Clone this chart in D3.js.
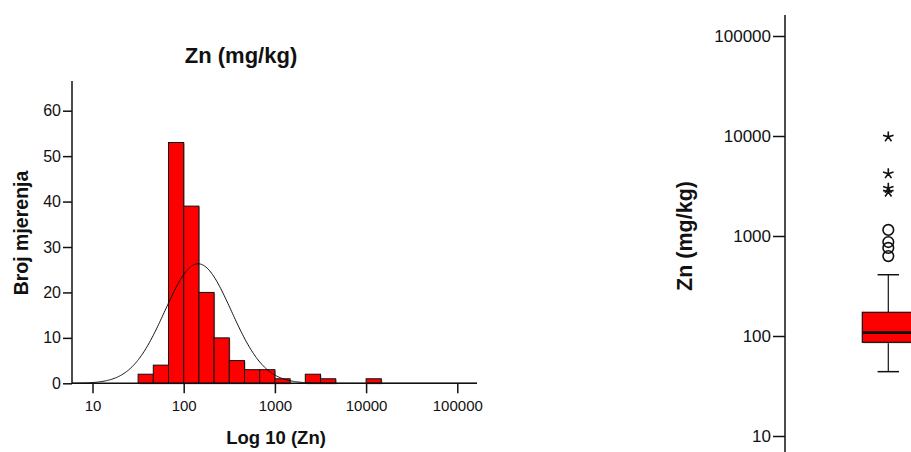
<!DOCTYPE html>
<html><head><meta charset="utf-8">
<script src="https://cdn.jsdelivr.net/npm/d3@7"></script>
<style>
html,body{margin:0;padding:0;background:#fff;}
svg{display:block;font-family:"Liberation Sans",Arial,sans-serif;}
</style></head>
<body>
<svg id="c" width="911" height="452"></svg>
<script>
// ---------- DATA ----------
const histTitle = "Zn (mg/kg)";
const histXLabel = "Log 10 (Zn)";
const histYLabel = "Broj mjerenja";
// bin lower edges in log10(Zn), bin width 1/6 decade
const binLowLog = [1.5, 1.6667, 1.8333, 2.0, 2.1667, 2.3333, 2.5, 2.6667, 2.8333, 3.0, 3.1667, 3.3333, 3.5, 3.6667, 3.8333, 4.0];
const binCounts = [2, 4, 53, 39, 20, 10, 5, 3, 3, 1, 0, 2, 1, 0, 0, 1];
const binWidthLog = 1/6;
const histXTicks = [10, 100, 1000, 10000, 100000];
const histXTickLabels = ["10", "100", "1000", "10000", "100000"];
const histYTicks = [0, 10, 20, 30, 40, 50, 60];
// fitted normal curve (log10 scale)
const normalMean = 2.158;
const normalSD = 0.364;
const normalN = 144;

const boxYLabel = "Zn (mg/kg)";
const boxYTicks = [10, 100, 1000, 10000, 100000];
const boxYTickLabels = ["10", "100", "1000", "10000", "100000"];
const boxStats = {min: 44, q1: 86.5, median: 108, q3: 172.6, max: 410};
const outlierCircles = [630, 760, 870, 1150];
const extremeStars = [2750, 3000, 4200, 9800];

// ---------- DRAW ----------
const svg = d3.select("#c");
const ink = "#111";

// ===== Histogram =====
const hx = d3.scaleLog().domain([10, 100000]).range([92.5, 457.3]);
const hxl = v => hx(Math.pow(10, v));
const hy = d3.scaleLinear().domain([0, 60]).range([383.3, 110.7]);
const hLeft = 72, hRight = 477, hTop = 81;

// title
svg.append("text").attr("x", 241).attr("y", 63).attr("text-anchor", "middle")
  .attr("font-size", 22).attr("font-weight", "bold").attr("fill", ink).text(histTitle);

// bars
const bars = svg.append("g");
binCounts.forEach((c, i) => {
  if (c <= 0) return;
  const x0 = hxl(binLowLog[i]), x1 = hxl(binLowLog[i] + binWidthLog);
  bars.append("rect").attr("x", x0 + 1).attr("y", hy(c) + 1).attr("width", x1 - x0).attr("height", hy(0) - hy(c))
    .attr("fill", "#aaa");
  bars.append("rect").attr("x", x0).attr("y", hy(c)).attr("width", x1 - x0).attr("height", hy(0) - hy(c))
    .attr("fill", "#ff0000").attr("stroke", ink).attr("stroke-width", 1);
});

// normal curve
const peak = normalN * binWidthLog / (normalSD * Math.sqrt(2 * Math.PI));
const curvePts = d3.range(Math.log10(hx.invert(hLeft)), Math.log10(hx.invert(hRight)), 0.01)
  .map(v => [hxl(v), hy(peak * Math.exp(-0.5 * Math.pow((v - normalMean) / normalSD, 2)))]);
svg.append("path").attr("d", d3.line()(curvePts)).attr("fill", "none").attr("stroke", ink).attr("stroke-width", 1);

// y axis
const gy = svg.append("g").attr("transform", `translate(${hLeft},0)`)
  .call(d3.axisLeft(hy).tickValues(histYTicks).tickSize(9).tickPadding(2));
gy.select(".domain").remove();
gy.append("line").attr("x1", 0).attr("x2", 0).attr("y1", hTop).attr("y2", hy(0) + 0.5).attr("stroke", ink).attr("stroke-width", 1.5);
gy.selectAll(".tick line").attr("stroke", ink).attr("stroke-width", 1.5);
gy.selectAll(".tick text").attr("font-size", 16).attr("fill", ink).attr("font-family", "Liberation Sans, Arial, sans-serif");

// x axis
const gx = svg.append("g").attr("transform", `translate(0,${hy(0)})`)
  .call(d3.axisBottom(hx).tickValues(histXTicks).tickFormat((d, i) => histXTickLabels[i]).tickSize(10).tickPadding(7));
gx.select(".domain").remove();
gx.append("line").attr("x1", hLeft).attr("x2", hRight).attr("y1", 0).attr("y2", 0).attr("stroke", ink).attr("stroke-width", 1.5);
gx.selectAll(".tick line").attr("stroke", ink).attr("stroke-width", 1.5);
gx.selectAll(".tick text").attr("font-size", 15).attr("fill", ink).attr("font-family", "Liberation Sans, Arial, sans-serif");

// axis labels
svg.append("text").attr("x", 276).attr("y", 444).attr("text-anchor", "middle")
  .attr("font-size", 18.5).attr("font-weight", "bold").attr("fill", ink).text(histXLabel);
svg.append("text").attr("transform", "translate(28,233) rotate(-90)").attr("text-anchor", "middle")
  .attr("font-size", 19.5).attr("font-weight", "bold").attr("fill", ink).text(histYLabel);

// ===== Box plot =====
const by = d3.scaleLog().domain([10, 100000]).range([436, 36]);
const bAxisX = 785, bTop = 15, bBottom = 452;
const cx = 888.3, halfW = 26, capHalf = 10.7;

const gb = svg.append("g").attr("transform", `translate(${bAxisX},0)`)
  .call(d3.axisLeft(by).tickValues(boxYTicks).tickFormat((d, i) => boxYTickLabels[i]).tickSize(12).tickPadding(2));
gb.select(".domain").remove();
gb.append("line").attr("x1", 0).attr("x2", 0).attr("y1", bTop).attr("y2", bBottom).attr("stroke", ink).attr("stroke-width", 1.5);
gb.selectAll(".tick line").attr("stroke", ink).attr("stroke-width", 1.5);
gb.selectAll(".tick text").attr("font-size", 17).attr("fill", ink).attr("font-family", "Liberation Sans, Arial, sans-serif");

svg.append("text").attr("transform", "translate(692,236) rotate(-90)").attr("text-anchor", "middle")
  .attr("font-size", 21.5).attr("font-weight", "bold").attr("fill", ink).text(boxYLabel);

const bx = svg.append("g");
// whiskers
bx.append("line").attr("x1", cx).attr("x2", cx).attr("y1", by(boxStats.max)).attr("y2", by(boxStats.q3)).attr("stroke", ink).attr("stroke-width", 1.2);
bx.append("line").attr("x1", cx).attr("x2", cx).attr("y1", by(boxStats.q1)).attr("y2", by(boxStats.min)).attr("stroke", ink).attr("stroke-width", 1.2);
[boxStats.max, boxStats.min].forEach(v => {
  bx.append("line").attr("x1", cx - capHalf).attr("x2", cx + capHalf).attr("y1", by(v)).attr("y2", by(v)).attr("stroke", ink).attr("stroke-width", 1.5);
});
// box
bx.append("rect").attr("x", cx - halfW + 1).attr("y", by(boxStats.q3) + 1).attr("width", 2 * halfW).attr("height", by(boxStats.q1) - by(boxStats.q3)).attr("fill", "#aaa");
bx.append("rect").attr("x", cx - halfW).attr("y", by(boxStats.q3)).attr("width", 2 * halfW).attr("height", by(boxStats.q1) - by(boxStats.q3))
  .attr("fill", "#ff0000").attr("stroke", ink).attr("stroke-width", 1.2);
bx.append("line").attr("x1", cx - halfW).attr("x2", cx + halfW).attr("y1", by(boxStats.median)).attr("y2", by(boxStats.median)).attr("stroke", ink).attr("stroke-width", 2.8);

// outliers
outlierCircles.forEach(v => {
  bx.append("circle").attr("cx", cx).attr("cy", by(v)).attr("r", 5.3).attr("fill", "none").attr("stroke", ink).attr("stroke-width", 1.6);
});
// extremes (asterisk)
extremeStars.forEach(v => {
  const y = by(v), r = 5.5;
  let d = "";
  for (let k = 0; k < 5; k++) {
    const a = -Math.PI / 2 + k * 2 * Math.PI / 5;
    d += `M${cx},${y}L${cx + r * Math.cos(a)},${y + r * Math.sin(a)}`;
  }
  bx.append("path").attr("d", d).attr("stroke", ink).attr("stroke-width", 1.6).attr("fill", "none");
});
</script>
</body></html>
